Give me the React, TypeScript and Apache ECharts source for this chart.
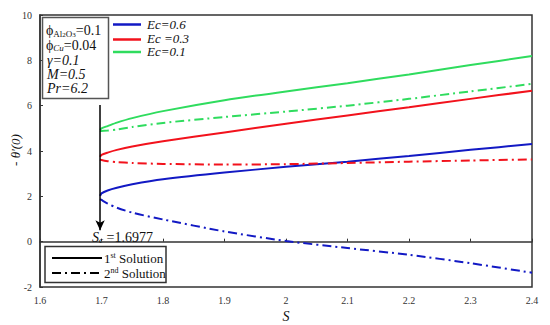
import React, { useEffect, useRef } from "react";
import * as echarts from "echarts";

const S = [1.6977, 1.7, 1.71, 1.725, 1.75, 1.8, 1.9, 2.0, 2.1, 2.2, 2.3, 2.4];
const blue1 = [2.02, 2.13, 2.26, 2.38, 2.53, 2.75, 3.05, 3.3, 3.53, 3.78, 4.05, 4.31];
const blue2 = [1.88, 1.84, 1.68, 1.5, 1.28, 0.98, 0.45, 0.03, -0.28, -0.58, -0.95, -1.37];
const red1 = [3.75, 3.83, 3.93, 4.05, 4.2, 4.43, 4.82, 5.2, 5.57, 5.93, 6.3, 6.66];
const red2 = [3.63, 3.6, 3.55, 3.51, 3.47, 3.43, 3.4, 3.42, 3.47, 3.53, 3.58, 3.63];
const green1 = [4.93, 5.0, 5.1, 5.25, 5.45, 5.76, 6.24, 6.63, 6.99, 7.38, 7.79, 8.19];
const green2 = [4.9, 4.88, 4.9, 4.95, 5.06, 5.24, 5.5, 5.74, 6.0, 6.3, 6.63, 6.96];
const Sc = 1.6977;
const arrowFrom = 6.03;
const arrowTo = 0.5;
const ecLabels = ["Ec=0.6", "Ec =0.3", "Ec=0.1"];
const yTitle = "- θ'(0)";

const BLUE = "#1219c4";
const RED = "#f2121c";
const GREEN = "#2fdc5e";
const DASHDOT = [9, 4, 2, 4];
const FONT = "'Liberation Serif', 'Times New Roman', serif";

const pair = (ys: number[]) => S.map((s, i) => [s, ys[i]]);

export default function App() {
  const ref = useRef<HTMLDivElement>(null);
  useEffect(() => {
    if (!ref.current) return;
    const chart = echarts.init(ref.current, undefined, { renderer: "svg" });
    const mk = (name: string, ys: number[], color: string, dash: boolean) => ({
      name,
      type: "line",
      data: pair(ys),
      smooth: 0.25,
      showSymbol: false,
      symbol: "none",
      lineStyle: { color, width: 2, type: dash ? DASHDOT : "solid" },
      z: 3,
    });
    const txt = (x: number, y: number, text: string, extra: any = {}) => ({
      type: "text",
      x,
      y,
      style: { text, fontFamily: FONT, fontSize: 13, fill: "#111", verticalAlign: "middle", ...extra },
      z: 20,
    });
    chart.setOption({
      animation: false,
      grid: {
        left: 40, top: 15, right: 18, bottom: 38,
        outerBoundsMode: "none",
        containLabel: false,
        show: true, borderColor: "#333", borderWidth: 1.5,
      },
      xAxis: {
        type: "value",
        min: 1.6,
        max: 2.4,
        interval: 0.1,
        name: "S",
        nameLocation: "middle",
        nameGap: 19,
        nameTextStyle: { fontFamily: FONT, fontStyle: "italic", fontSize: 14, color: "#111" },
        axisLine: { show: true, lineStyle: { color: "#333", width: 1.5 } },
        axisTick: { show: true, inside: true, length: 3, lineStyle: { color: "#333" } },
        axisLabel: { fontFamily: FONT, fontSize: 10, color: "#333", margin: 8, formatter: (v: number) => String(Math.round(v * 10) / 10) },
        splitLine: { show: false },
      },
      yAxis: {
        type: "value",
        min: -2,
        max: 10,
        interval: 2,
        axisLine: { show: true, lineStyle: { color: "#333", width: 1.5 } },
        axisTick: { show: true, inside: true, length: 3, lineStyle: { color: "#333" } },
        axisLabel: { fontFamily: FONT, fontSize: 10, color: "#333", margin: 8 },
        splitLine: { show: false },
      },
      series: [
        mk("b1", blue1, BLUE, false),
        mk("b2", blue2, BLUE, true),
        mk("r1", red1, RED, false),
        mk("r2", red2, RED, true),
        mk("g1", green1, GREEN, false),
        mk("g2", green2, GREEN, true),
        {
          type: "line",
          data: [],
          markLine: {
            silent: true,
            symbol: ["none", "arrow"],
            symbolSize: [7, 10],
            label: { show: false },
            lineStyle: { color: "#000", width: 1.5, type: "solid" },
            data: [[{ coord: [Sc, arrowFrom] }, { coord: [Sc, arrowTo] }]],
          },
        },
      ],
      graphic: [
        {
          type: "text",
          x: 15,
          y: 150,
          rotation: Math.PI / 2,
          style: { text: yTitle, fontFamily: FONT, fontStyle: "italic", fontSize: 13, fill: "#111", align: "center", verticalAlign: "middle" },
          z: 20,
        },
        // parameter box
        { type: "rect", shape: { x: 42.5, y: 17.5, width: 66, height: 81 }, style: { fill: "#fff", stroke: "#555", lineWidth: 1.5 }, z: 15 },
        {
          type: "text",
          x: 46,
          y: 30,
          style: {
            text: "{p|ϕ}{s|Al}{ss|2}{s|O}{ss|3}{p|=0.1}",
            fontFamily: FONT,
            fill: "#111",
            verticalAlign: "middle",
            rich: {
              p: { fontSize: 14, fontFamily: FONT, fill: "#111" },
              s: { fontSize: 9, fontFamily: FONT, fill: "#111", verticalAlign: "bottom", padding: [6, 0, 0, 0] },
              ss: { fontSize: 7, fontFamily: FONT, fill: "#111", verticalAlign: "bottom", padding: [9, 0, 0, 0] },
            },
          },
          z: 20,
        },
        {
          type: "text",
          x: 46,
          y: 45,
          style: {
            text: "{p|ϕ}{s|Cu}{p|=0.04}",
            fontFamily: FONT,
            fill: "#111",
            verticalAlign: "middle",
            rich: {
              p: { fontSize: 14, fontFamily: FONT, fill: "#111" },
              s: { fontSize: 9, fontFamily: FONT, fontStyle: "italic", fill: "#111", verticalAlign: "bottom", padding: [6, 0, 0, 0] },
            },
          },
          z: 20,
        },
        txt(47, 60, "γ=0.1", { fontStyle: "italic", fontSize: 14 }),
        txt(47, 74, "M=0.5", { fontStyle: "italic", fontSize: 14 }),
        txt(47, 88, "Pr=6.2", { fontStyle: "italic", fontSize: 14 }),
        // Ec legend
        { type: "line", shape: { x1: 113, y1: 24.5, x2: 141, y2: 24.5 }, style: { stroke: BLUE, lineWidth: 2.5 }, z: 20 },
        { type: "line", shape: { x1: 113, y1: 39.5, x2: 141, y2: 39.5 }, style: { stroke: RED, lineWidth: 2.5 }, z: 20 },
        { type: "line", shape: { x1: 113, y1: 52, x2: 141, y2: 52 }, style: { stroke: GREEN, lineWidth: 2.5 }, z: 20 },
        txt(147, 24, ecLabels[0], { fontStyle: "italic" }),
        txt(147, 38, ecLabels[1], { fontStyle: "italic" }),
        txt(147, 51.5, ecLabels[2], { fontStyle: "italic" }),
        // Sc label
        {
          type: "text",
          x: 92,
          y: 237,
          style: {
            text: "{a|S}{b|c}{c| =1.6977}",
            verticalAlign: "middle",
            rich: {
              a: { fontSize: 14, fontFamily: FONT, fontStyle: "italic", fill: "#111" },
              b: { fontSize: 9, fontFamily: FONT, fontStyle: "italic", fill: "#111", verticalAlign: "bottom", padding: [6, 0, 0, 0] },
              c: { fontSize: 14, fontFamily: FONT, fill: "#111" },
            },
          },
          z: 20,
        },
        // solution legend
        { type: "rect", shape: { x: 45, y: 246.5, width: 121, height: 36 }, style: { fill: "#fff", stroke: "#333", lineWidth: 1.5 }, z: 15 },
        { type: "line", shape: { x1: 52, y1: 258, x2: 102, y2: 258 }, style: { stroke: "#000", lineWidth: 2 }, z: 20 },
        { type: "line", shape: { x1: 52, y1: 273, x2: 102, y2: 273 }, style: { stroke: "#000", lineWidth: 2, lineDash: DASHDOT }, z: 20 },
        {
          type: "text",
          x: 104,
          y: 258,
          style: {
            text: "{a|1}{b|st}{a| Solution}",
            verticalAlign: "middle",
            rich: {
              a: { fontSize: 13, fontFamily: FONT, fill: "#111" },
              b: { fontSize: 8, fontFamily: FONT, fill: "#111", verticalAlign: "top", padding: [0, 0, 6, 0] },
            },
          },
          z: 20,
        },
        {
          type: "text",
          x: 104,
          y: 273,
          style: {
            text: "{a|2}{b|nd}{a| Solution}",
            verticalAlign: "middle",
            rich: {
              a: { fontSize: 13, fontFamily: FONT, fill: "#111" },
              b: { fontSize: 8, fontFamily: FONT, fill: "#111", verticalAlign: "top", padding: [0, 0, 6, 0] },
            },
          },
          z: 20,
        },
      ],
    });
    return () => chart.dispose();
  }, []);
  return <div ref={ref} style={{ width: 550, height: 325, position: "absolute", left: 0, top: 0 }} />;
}
